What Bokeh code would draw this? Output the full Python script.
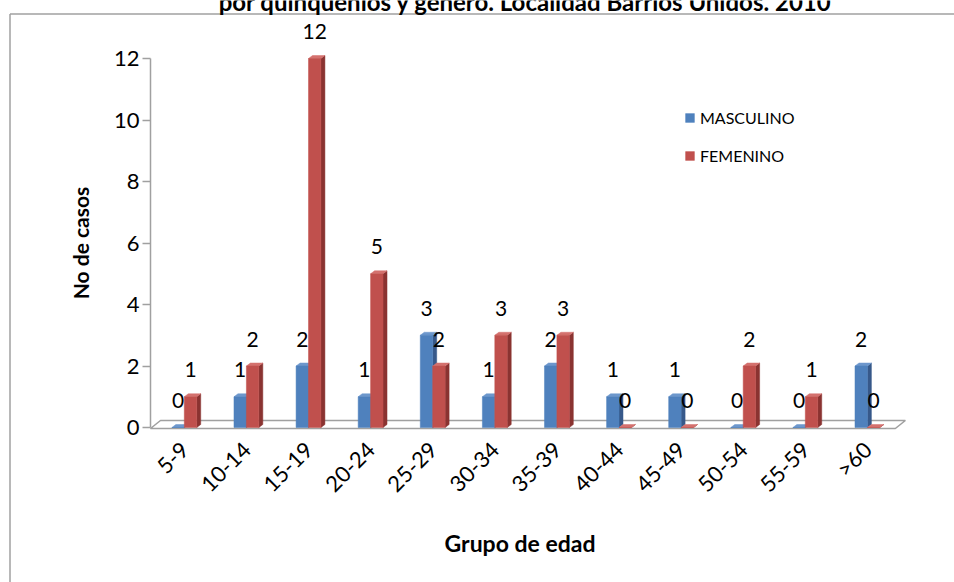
import math
from bokeh.plotting import figure
from bokeh.models import FixedTicker, Range1d, ColumnDataSource, Legend, LegendItem, Label
from bokeh.core.properties import value
from bokeh.embed import file_html
from bokeh.resources import INLINE

# ---------------- data ----------------
groups = ["5-9", "10-14", "15-19", "20-24", "25-29", "30-34",
          "35-39", "40-44", "45-49", "50-54", "55-59", ">60"]
masculino = [0, 1, 2, 1, 3, 1, 2, 1, 1, 0, 0, 2]
femenino = [1, 2, 12, 5, 2, 3, 3, 0, 0, 2, 1, 0]
y_ticks = [0, 2, 4, 6, 8, 10, 12]
series_names = ["MASCULINO", "FEMENINO"]
title_text = "por quinquenios y género. Localidad Barrios Unidos. 2010"
x_title = "Grupo de edad"
y_title = "No de casos"

# ---------------- layout helpers (picture px -> data) ----------------
W, H = 954, 582
X0_PX, X_STEP = 183.8, 62.1
Y0_PX, Y_STEP = 427.0, 30.75


def xd(px):
    return (px - X0_PX) / X_STEP


def yd(py):
    return (Y0_PX - py) / Y_STEP


FONT_NAME = "Lato"
FONT = value(FONT_NAME)
BLUE, BLUE_SIDE, BLUE_TOP = "#4f81bd", "#37598a", "#6d97cc"
RED, RED_SIDE, RED_TOP = "#c0504d", "#8a3331", "#d4716e"
GRAY = "#a0a0a0"

p = figure(width=W, height=H, output_backend="svg", toolbar_location=None,
           x_range=Range1d(xd(0), xd(W)),
           y_range=Range1d(yd(H), yd(0)),
           min_border=0, min_border_left=0, min_border_right=0,
           min_border_top=0, min_border_bottom=0)
p.outline_line_color = None
p.xgrid.visible = False
p.ygrid.visible = False
p.background_fill_color = "white"
p.border_fill_color = "white"

# chart-area frame (left and top edges visible in reference)
p.segment(x0=[xd(9.5), xd(9.5)], y0=[yd(13.5), yd(13.5)],
          x1=[xd(9.5), xd(W)], y1=[yd(H), yd(13.5)],
          line_color=GRAY, line_width=1.5)

# floor
axis_x = xd(150)
fdx, fdy = 10 / X_STEP, 8 / Y_STEP
floor_front = -1 / Y_STEP
floor_right = len(groups) - 0.55
p.patch(x=[axis_x, floor_right, floor_right + fdx, axis_x + fdx],
        y=[floor_front, floor_front, floor_front + fdy, floor_front + fdy],
        fill_color="white", line_color=GRAY, line_width=1.6)

# 3D bars
bw = 0.2
dx, dy = 4 / X_STEP, 3 / Y_STEP


def bars(vals, offset, front, side, top):
    lefts = [i + offset for i in range(len(vals))]
    rights = [l + bw for l in lefts]
    side_xs = [[r, r + dx, r + dx, r] for r in rights]
    side_ys = [[0, dy, v + dy, v] for v in vals]
    top_xs = [[l, l + dx, r + dx, r] for l, r in zip(lefts, rights)]
    top_ys = [[v, v + dy, v + dy, v] for v in vals]
    p.patches(xs=side_xs, ys=side_ys, fill_color=side, line_color=side, line_width=0.5)
    p.patches(xs=top_xs, ys=top_ys, fill_color=top, line_color=top, line_width=0.5)
    r = p.quad(left=lefts, right=rights, bottom=0, top=vals,
               fill_color=front, line_color=front, line_width=0.5)
    src = ColumnDataSource(dict(x=[l + bw / 2 for l in lefts], y=vals,
                                t=[str(v) for v in vals]))
    p.text(x="x", y="y", text="t", source=src, text_align="center",
           text_baseline="middle", y_offset=-27, text_font=FONT,
           text_font_size="21px", text_color="black")
    return r


r_m = bars(masculino, -bw, BLUE, BLUE_SIDE, BLUE_TOP)
r_f = bars(femenino, 0.0, RED, RED_SIDE, RED_TOP)

# y axis
yax = p.yaxis[0]
yax.fixed_location = axis_x
yax.bounds = (0, 12)
yax.ticker = FixedTicker(ticks=y_ticks)
yax.minor_tick_line_color = None
yax.major_tick_out = 8
yax.major_tick_in = 0
yax.axis_line_color = GRAY
yax.axis_line_width = 1.5
yax.major_tick_line_color = GRAY
yax.major_tick_line_width = 1.5
yax.major_label_standoff = 3
yax.major_label_text_font = FONT_NAME
yax.major_label_text_font_size = "22px"
yax.major_label_text_color = "black"
yax.axis_label = y_title
yax.axis_label_text_font = FONT_NAME
yax.axis_label_text_font_size = "21px"
yax.axis_label_text_font_style = "bold"
yax.axis_label_text_color = "black"
yax.axis_label_standoff = 18

# x axis
xax = p.xaxis[0]
xax.fixed_location = 0
xax.bounds = (-0.5, len(groups) - 0.7)
xax.ticker = FixedTicker(ticks=list(range(len(groups))))
xax.major_label_overrides = {i: g for i, g in enumerate(groups)}
xax.major_label_orientation = math.pi / 4
xax.axis_line_color = None
xax.major_tick_line_color = None
xax.minor_tick_line_color = None
xax.major_label_standoff = 12
xax.major_label_text_font = FONT_NAME
xax.major_label_text_font_size = "22px"
xax.major_label_text_color = "black"
xax.axis_label = x_title
xax.axis_label_text_font = FONT_NAME
xax.axis_label_text_font_size = "23px"
xax.axis_label_text_font_style = "bold"
xax.axis_label_text_color = "black"
xax.axis_label_standoff = 20

# legend
legend = Legend(items=[LegendItem(label=series_names[0], renderers=[r_m]),
                       LegendItem(label=series_names[1], renderers=[r_f])],
                location=(684, 417), orientation="vertical",
                glyph_width=11, glyph_height=11, label_height=20,
                label_standoff=5, spacing=18, padding=0, margin=0,
                border_line_color=None, background_fill_alpha=0,
                label_text_font=FONT_NAME, label_text_font_size="16px",
                label_text_color="black")
p.add_layout(legend)

# title (cut at the top edge in the reference)
p.add_layout(Label(x=xd(525), y=yd(0.5), text=title_text, text_align="center",
                   text_baseline="alphabetic", text_font=FONT_NAME,
                   text_font_size="24px", text_font_style="bold",
                   text_color="black"))

open("out.html", "w").write(file_html(p, INLINE))
